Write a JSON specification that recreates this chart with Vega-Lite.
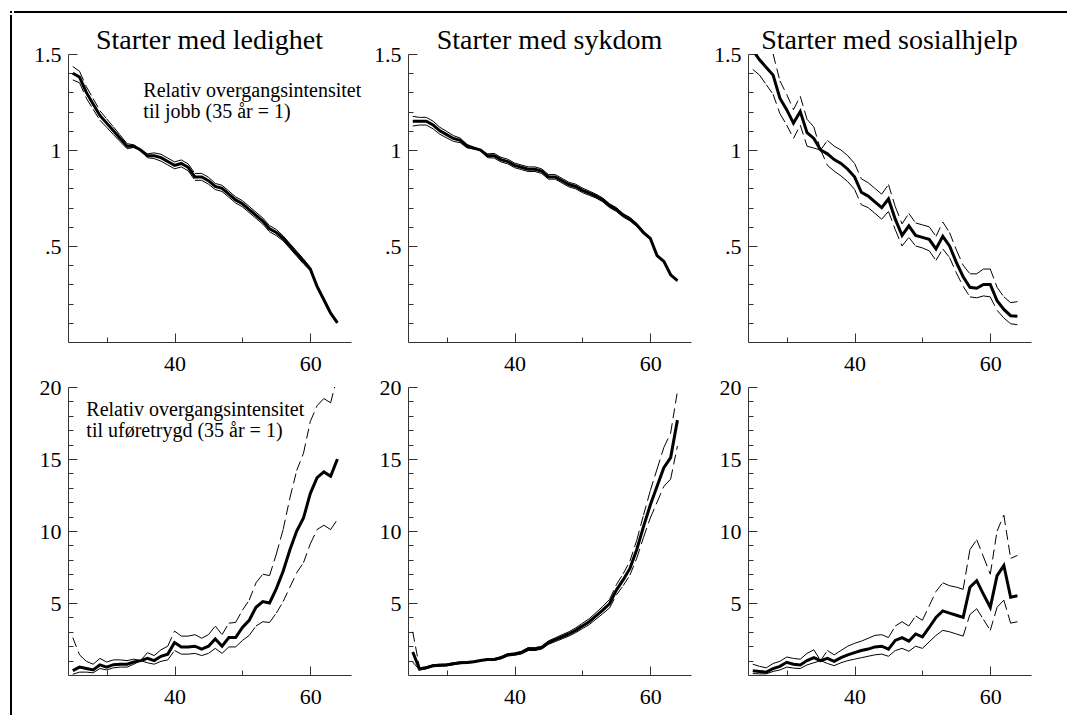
{
"$schema": "https://vega.github.io/schema/vega-lite/v6.json",
"padding": {"left": 8, "top": 9, "right": 0, "bottom": 0},
"autosize": {"type": "pad"},
"background": "white",
"config": {
  "font": "Liberation Serif",
  "view": {"stroke": null},
  "title": {"font": "Liberation Serif", "fontSize": 28, "fontWeight": "normal", "color": "black", "anchor": "middle", "frame": "group", "offset": -12},
  "axis": {"grid": false, "domainColor": "#333", "tickColor": "#333", "labelColor": "black", "labelFont": "Liberation Serif", "labelFontSize": 22, "labelOverlap": false, "title": null, "domainWidth": 1, "tickWidth": 1, "tickCount": 100}
},
"datasets": {
"notes": [
 {"p": "A", "a": 35.4, "v": 1.276, "t": "Relativ overgangsintensitet\ntil jobb (35 år = 1)"},
 {"p": "D", "a": 27.0, "v": 18.0, "t": "Relativ overgangsintensitet\ntil uføretrygd (35 år = 1)"}
],
"d": [
{"p":"A","a":25,"m":1.40,"lo":1.365,"hi":1.435},{"p":"A","a":26,"m":1.38,"lo":1.35,"hi":1.41},{"p":"A","a":27,"m":1.30,"lo":1.27,"hi":1.33},{"p":"A","a":28,"m":1.24,"lo":1.212,"hi":1.268},{"p":"A","a":29,"m":1.18,"lo":1.155,"hi":1.205},{"p":"A","a":30,"m":1.14,"lo":1.118,"hi":1.162},{"p":"A","a":31,"m":1.10,"lo":1.08,"hi":1.12},{"p":"A","a":32,"m":1.06,"lo":1.043,"hi":1.077},{"p":"A","a":33,"m":1.02,"lo":1.007,"hi":1.033},{"p":"A","a":34,"m":1.02,"lo":1.013,"hi":1.027},{"p":"A","a":35,"m":1.00,"lo":1.00,"hi":1.00},{"p":"A","a":36,"m":0.97,"lo":0.96,"hi":0.98},{"p":"A","a":37,"m":0.97,"lo":0.955,"hi":0.985},{"p":"A","a":38,"m":0.96,"lo":0.942,"hi":0.978},{"p":"A","a":39,"m":0.94,"lo":0.922,"hi":0.958},{"p":"A","a":40,"m":0.92,"lo":0.902,"hi":0.938},{"p":"A","a":41,"m":0.93,"lo":0.912,"hi":0.948},{"p":"A","a":42,"m":0.91,"lo":0.892,"hi":0.928},{"p":"A","a":43,"m":0.86,"lo":0.842,"hi":0.878},{"p":"A","a":44,"m":0.86,"lo":0.842,"hi":0.878},{"p":"A","a":45,"m":0.84,"lo":0.822,"hi":0.858},{"p":"A","a":46,"m":0.81,"lo":0.794,"hi":0.826},{"p":"A","a":47,"m":0.80,"lo":0.784,"hi":0.816},{"p":"A","a":48,"m":0.77,"lo":0.754,"hi":0.786},{"p":"A","a":49,"m":0.74,"lo":0.724,"hi":0.756},{"p":"A","a":50,"m":0.72,"lo":0.704,"hi":0.736},{"p":"A","a":51,"m":0.69,"lo":0.674,"hi":0.706},{"p":"A","a":52,"m":0.66,"lo":0.644,"hi":0.676},{"p":"A","a":53,"m":0.63,"lo":0.614,"hi":0.646},{"p":"A","a":54,"m":0.59,"lo":0.574,"hi":0.606},{"p":"A","a":55,"m":0.57,"lo":0.554,"hi":0.586},{"p":"A","a":56,"m":0.54,"lo":0.527,"hi":0.553},{"p":"A","a":57,"m":0.50,"lo":0.487,"hi":0.513},{"p":"A","a":58,"m":0.46,"lo":0.447,"hi":0.473},{"p":"A","a":59,"m":0.42,"lo":0.407,"hi":0.433},{"p":"A","a":60,"m":0.38,"lo":0.372,"hi":0.388},{"p":"A","a":61,"m":0.29,"lo":0.285,"hi":0.295},{"p":"A","a":62,"m":0.22,"lo":0.215,"hi":0.225},{"p":"A","a":63,"m":0.15,"lo":0.145,"hi":0.155},{"p":"A","a":64,"m":0.10,"lo":0.095,"hi":0.105},
{"p":"B","a":25,"m":1.15,"lo":1.125,"hi":1.175},{"p":"B","a":26,"m":1.15,"lo":1.13,"hi":1.17},{"p":"B","a":27,"m":1.15,"lo":1.13,"hi":1.17},{"p":"B","a":28,"m":1.13,"lo":1.11,"hi":1.15},{"p":"B","a":29,"m":1.10,"lo":1.082,"hi":1.118},{"p":"B","a":30,"m":1.08,"lo":1.063,"hi":1.097},{"p":"B","a":31,"m":1.06,"lo":1.045,"hi":1.075},{"p":"B","a":32,"m":1.05,"lo":1.038,"hi":1.062},{"p":"B","a":33,"m":1.02,"lo":1.011,"hi":1.029},{"p":"B","a":34,"m":1.01,"lo":1.005,"hi":1.015},{"p":"B","a":35,"m":1.00,"lo":1.00,"hi":1.00},{"p":"B","a":36,"m":0.97,"lo":0.96,"hi":0.98},{"p":"B","a":37,"m":0.97,"lo":0.958,"hi":0.982},{"p":"B","a":38,"m":0.95,"lo":0.938,"hi":0.962},{"p":"B","a":39,"m":0.94,"lo":0.928,"hi":0.952},{"p":"B","a":40,"m":0.92,"lo":0.908,"hi":0.932},{"p":"B","a":41,"m":0.91,"lo":0.898,"hi":0.922},{"p":"B","a":42,"m":0.90,"lo":0.888,"hi":0.912},{"p":"B","a":43,"m":0.90,"lo":0.888,"hi":0.912},{"p":"B","a":44,"m":0.89,"lo":0.878,"hi":0.902},{"p":"B","a":45,"m":0.86,"lo":0.848,"hi":0.872},{"p":"B","a":46,"m":0.86,"lo":0.848,"hi":0.872},{"p":"B","a":47,"m":0.84,"lo":0.828,"hi":0.852},{"p":"B","a":48,"m":0.82,"lo":0.808,"hi":0.832},{"p":"B","a":49,"m":0.81,"lo":0.798,"hi":0.822},{"p":"B","a":50,"m":0.79,"lo":0.778,"hi":0.802},{"p":"B","a":51,"m":0.775,"lo":0.764,"hi":0.786},{"p":"B","a":52,"m":0.76,"lo":0.75,"hi":0.77},{"p":"B","a":53,"m":0.74,"lo":0.73,"hi":0.75},{"p":"B","a":54,"m":0.71,"lo":0.70,"hi":0.72},{"p":"B","a":55,"m":0.69,"lo":0.68,"hi":0.70},{"p":"B","a":56,"m":0.66,"lo":0.651,"hi":0.669},{"p":"B","a":57,"m":0.64,"lo":0.631,"hi":0.649},{"p":"B","a":58,"m":0.61,"lo":0.602,"hi":0.618},{"p":"B","a":59,"m":0.57,"lo":0.564,"hi":0.576},{"p":"B","a":60,"m":0.54,"lo":0.535,"hi":0.545},{"p":"B","a":61,"m":0.45,"lo":0.446,"hi":0.454},{"p":"B","a":62,"m":0.42,"lo":0.416,"hi":0.424},{"p":"B","a":63,"m":0.35,"lo":0.346,"hi":0.354},{"p":"B","a":64,"m":0.32,"lo":0.317,"hi":0.323},
{"p":"C","a":25,"m":1.52,"lo":1.42,"hi":1.63},{"p":"C","a":26,"m":1.47,"lo":1.39,"hi":1.56},{"p":"C","a":27,"m":1.43,"lo":1.34,"hi":1.53},{"p":"C","a":28,"m":1.39,"lo":1.29,"hi":1.50},{"p":"C","a":29,"m":1.27,"lo":1.19,"hi":1.36},{"p":"C","a":30,"m":1.21,"lo":1.13,"hi":1.29},{"p":"C","a":31,"m":1.14,"lo":1.06,"hi":1.21},{"p":"C","a":32,"m":1.20,"lo":1.13,"hi":1.28},{"p":"C","a":33,"m":1.09,"lo":1.02,"hi":1.16},{"p":"C","a":34,"m":1.06,"lo":1.01,"hi":1.12},{"p":"C","a":35,"m":1.00,"lo":1.00,"hi":1.00},{"p":"C","a":36,"m":0.98,"lo":0.92,"hi":1.05},{"p":"C","a":37,"m":0.95,"lo":0.89,"hi":1.02},{"p":"C","a":38,"m":0.93,"lo":0.865,"hi":1.00},{"p":"C","a":39,"m":0.90,"lo":0.835,"hi":0.97},{"p":"C","a":40,"m":0.86,"lo":0.795,"hi":0.93},{"p":"C","a":41,"m":0.78,"lo":0.715,"hi":0.85},{"p":"C","a":42,"m":0.76,"lo":0.70,"hi":0.83},{"p":"C","a":43,"m":0.73,"lo":0.67,"hi":0.80},{"p":"C","a":44,"m":0.70,"lo":0.64,"hi":0.77},{"p":"C","a":45,"m":0.745,"lo":0.68,"hi":0.82},{"p":"C","a":46,"m":0.64,"lo":0.585,"hi":0.705},{"p":"C","a":47,"m":0.555,"lo":0.50,"hi":0.615},{"p":"C","a":48,"m":0.605,"lo":0.545,"hi":0.67},{"p":"C","a":49,"m":0.555,"lo":0.50,"hi":0.62},{"p":"C","a":50,"m":0.545,"lo":0.49,"hi":0.61},{"p":"C","a":51,"m":0.535,"lo":0.475,"hi":0.60},{"p":"C","a":52,"m":0.485,"lo":0.425,"hi":0.55},{"p":"C","a":53,"m":0.55,"lo":0.485,"hi":0.625},{"p":"C","a":54,"m":0.50,"lo":0.44,"hi":0.57},{"p":"C","a":55,"m":0.415,"lo":0.36,"hi":0.48},{"p":"C","a":56,"m":0.34,"lo":0.29,"hi":0.40},{"p":"C","a":57,"m":0.285,"lo":0.235,"hi":0.355},{"p":"C","a":58,"m":0.28,"lo":0.23,"hi":0.355},{"p":"C","a":59,"m":0.30,"lo":0.24,"hi":0.38},{"p":"C","a":60,"m":0.30,"lo":0.235,"hi":0.38},{"p":"C","a":61,"m":0.215,"lo":0.165,"hi":0.285},{"p":"C","a":62,"m":0.17,"lo":0.125,"hi":0.235},{"p":"C","a":63,"m":0.137,"lo":0.095,"hi":0.205},{"p":"C","a":64,"m":0.134,"lo":0.09,"hi":0.21},
{"p":"D","a":25,"m":0.30,"lo":0.05,"hi":2.6},{"p":"D","a":26,"m":0.55,"lo":0.2,"hi":1.4},{"p":"D","a":27,"m":0.45,"lo":0.2,"hi":0.95},{"p":"D","a":28,"m":0.35,"lo":0.15,"hi":0.75},{"p":"D","a":29,"m":0.70,"lo":0.45,"hi":1.15},{"p":"D","a":30,"m":0.55,"lo":0.35,"hi":0.9},{"p":"D","a":31,"m":0.72,"lo":0.5,"hi":1.05},{"p":"D","a":32,"m":0.75,"lo":0.55,"hi":1.05},{"p":"D","a":33,"m":0.75,"lo":0.55,"hi":1.0},{"p":"D","a":34,"m":0.9,"lo":0.75,"hi":1.1},{"p":"D","a":35,"m":1.0,"lo":1.0,"hi":1.0},{"p":"D","a":36,"m":1.15,"lo":0.85,"hi":1.55},{"p":"D","a":37,"m":1.0,"lo":0.75,"hi":1.35},{"p":"D","a":38,"m":1.3,"lo":0.95,"hi":1.75},{"p":"D","a":39,"m":1.45,"lo":1.05,"hi":2.0},{"p":"D","a":40,"m":2.25,"lo":1.7,"hi":3.05},{"p":"D","a":41,"m":1.95,"lo":1.45,"hi":2.7},{"p":"D","a":42,"m":1.95,"lo":1.45,"hi":2.7},{"p":"D","a":43,"m":2.0,"lo":1.5,"hi":2.8},{"p":"D","a":44,"m":1.8,"lo":1.35,"hi":2.55},{"p":"D","a":45,"m":2.0,"lo":1.5,"hi":2.8},{"p":"D","a":46,"m":2.5,"lo":1.85,"hi":3.4},{"p":"D","a":47,"m":2.0,"lo":1.5,"hi":2.8},{"p":"D","a":48,"m":2.6,"lo":1.95,"hi":3.6},{"p":"D","a":49,"m":2.6,"lo":1.95,"hi":3.65},{"p":"D","a":50,"m":3.3,"lo":2.4,"hi":4.5},{"p":"D","a":51,"m":3.8,"lo":2.75,"hi":5.2},{"p":"D","a":52,"m":4.7,"lo":3.4,"hi":6.4},{"p":"D","a":53,"m":5.1,"lo":3.7,"hi":7.0},{"p":"D","a":54,"m":5.0,"lo":3.65,"hi":6.9},{"p":"D","a":55,"m":6.0,"lo":4.3,"hi":8.4},{"p":"D","a":56,"m":7.2,"lo":5.1,"hi":10.1},{"p":"D","a":57,"m":8.7,"lo":6.1,"hi":12.3},{"p":"D","a":58,"m":10.0,"lo":7.1,"hi":14.2},{"p":"D","a":59,"m":10.9,"lo":7.8,"hi":15.4},{"p":"D","a":60,"m":12.6,"lo":9.1,"hi":17.6},{"p":"D","a":61,"m":13.7,"lo":10.1,"hi":18.7},{"p":"D","a":62,"m":14.1,"lo":10.4,"hi":19.2},{"p":"D","a":63,"m":13.8,"lo":10.1,"hi":18.9},{"p":"D","a":64,"m":15.0,"lo":10.8,"hi":20.8},
{"p":"E","a":25,"m":1.6,"lo":0.9,"hi":3.0},{"p":"E","a":26,"m":0.42,"lo":0.35,"hi":0.5},{"p":"E","a":27,"m":0.5,"lo":0.44,"hi":0.57},{"p":"E","a":28,"m":0.65,"lo":0.58,"hi":0.72},{"p":"E","a":29,"m":0.68,"lo":0.61,"hi":0.75},{"p":"E","a":30,"m":0.70,"lo":0.64,"hi":0.77},{"p":"E","a":31,"m":0.78,"lo":0.72,"hi":0.85},{"p":"E","a":32,"m":0.85,"lo":0.79,"hi":0.91},{"p":"E","a":33,"m":0.87,"lo":0.82,"hi":0.92},{"p":"E","a":34,"m":0.92,"lo":0.88,"hi":0.96},{"p":"E","a":35,"m":1.0,"lo":1.0,"hi":1.0},{"p":"E","a":36,"m":1.08,"lo":1.02,"hi":1.14},{"p":"E","a":37,"m":1.08,"lo":1.02,"hi":1.14},{"p":"E","a":38,"m":1.2,"lo":1.13,"hi":1.27},{"p":"E","a":39,"m":1.4,"lo":1.32,"hi":1.48},{"p":"E","a":40,"m":1.45,"lo":1.37,"hi":1.54},{"p":"E","a":41,"m":1.55,"lo":1.46,"hi":1.64},{"p":"E","a":42,"m":1.8,"lo":1.7,"hi":1.9},{"p":"E","a":43,"m":1.8,"lo":1.7,"hi":1.9},{"p":"E","a":44,"m":1.9,"lo":1.8,"hi":2.0},{"p":"E","a":45,"m":2.25,"lo":2.13,"hi":2.37},{"p":"E","a":46,"m":2.45,"lo":2.32,"hi":2.58},{"p":"E","a":47,"m":2.65,"lo":2.51,"hi":2.8},{"p":"E","a":48,"m":2.85,"lo":2.7,"hi":3.0},{"p":"E","a":49,"m":3.1,"lo":2.94,"hi":3.27},{"p":"E","a":50,"m":3.4,"lo":3.22,"hi":3.59},{"p":"E","a":51,"m":3.7,"lo":3.5,"hi":3.91},{"p":"E","a":52,"m":4.1,"lo":3.88,"hi":4.33},{"p":"E","a":53,"m":4.5,"lo":4.26,"hi":4.76},{"p":"E","a":54,"m":4.95,"lo":4.66,"hi":5.25},{"p":"E","a":55,"m":5.9,"lo":5.55,"hi":6.27},{"p":"E","a":56,"m":6.6,"lo":6.2,"hi":7.03},{"p":"E","a":57,"m":7.4,"lo":6.93,"hi":7.9},{"p":"E","a":58,"m":8.7,"lo":8.1,"hi":9.35},{"p":"E","a":59,"m":10.3,"lo":9.55,"hi":11.1},{"p":"E","a":60,"m":11.8,"lo":10.9,"hi":12.8},{"p":"E","a":61,"m":13.1,"lo":12.0,"hi":14.3},{"p":"E","a":62,"m":14.4,"lo":13.1,"hi":15.8},{"p":"E","a":63,"m":15.1,"lo":13.6,"hi":16.8},{"p":"E","a":64,"m":17.7,"lo":15.9,"hi":19.7},
{"p":"F","a":25,"m":0.3,"lo":0.1,"hi":0.75},{"p":"F","a":26,"m":0.25,"lo":0.08,"hi":0.6},{"p":"F","a":27,"m":0.2,"lo":0.08,"hi":0.5},{"p":"F","a":28,"m":0.45,"lo":0.25,"hi":0.8},{"p":"F","a":29,"m":0.6,"lo":0.35,"hi":0.95},{"p":"F","a":30,"m":0.88,"lo":0.55,"hi":1.25},{"p":"F","a":31,"m":0.75,"lo":0.48,"hi":1.15},{"p":"F","a":32,"m":0.7,"lo":0.45,"hi":1.1},{"p":"F","a":33,"m":1.0,"lo":0.7,"hi":1.5},{"p":"F","a":34,"m":1.2,"lo":0.85,"hi":1.75},{"p":"F","a":35,"m":1.0,"lo":1.0,"hi":1.0},{"p":"F","a":36,"m":1.15,"lo":0.8,"hi":1.7},{"p":"F","a":37,"m":0.95,"lo":0.65,"hi":1.4},{"p":"F","a":38,"m":1.2,"lo":0.85,"hi":1.7},{"p":"F","a":39,"m":1.4,"lo":1.0,"hi":2.0},{"p":"F","a":40,"m":1.55,"lo":1.1,"hi":2.2},{"p":"F","a":41,"m":1.7,"lo":1.2,"hi":2.35},{"p":"F","a":42,"m":1.8,"lo":1.3,"hi":2.55},{"p":"F","a":43,"m":1.95,"lo":1.4,"hi":2.75},{"p":"F","a":44,"m":2.0,"lo":1.45,"hi":2.8},{"p":"F","a":45,"m":1.8,"lo":1.3,"hi":2.6},{"p":"F","a":46,"m":2.4,"lo":1.7,"hi":3.4},{"p":"F","a":47,"m":2.6,"lo":1.85,"hi":3.7},{"p":"F","a":48,"m":2.35,"lo":1.65,"hi":3.4},{"p":"F","a":49,"m":2.85,"lo":2.0,"hi":4.1},{"p":"F","a":50,"m":2.65,"lo":1.85,"hi":3.8},{"p":"F","a":51,"m":3.3,"lo":2.3,"hi":4.8},{"p":"F","a":52,"m":4.0,"lo":2.75,"hi":5.8},{"p":"F","a":53,"m":4.45,"lo":3.1,"hi":6.4},{"p":"F","a":54,"m":4.3,"lo":3.0,"hi":6.2},{"p":"F","a":55,"m":4.15,"lo":2.85,"hi":6.1},{"p":"F","a":56,"m":4.0,"lo":2.7,"hi":5.95},{"p":"F","a":57,"m":6.1,"lo":4.2,"hi":8.7},{"p":"F","a":58,"m":6.55,"lo":4.6,"hi":9.4},{"p":"F","a":59,"m":5.6,"lo":3.85,"hi":8.2},{"p":"F","a":60,"m":4.7,"lo":3.1,"hi":7.0},{"p":"F","a":61,"m":6.9,"lo":4.7,"hi":10.0},{"p":"F","a":62,"m":7.6,"lo":5.2,"hi":11.1},{"p":"F","a":63,"m":5.4,"lo":3.6,"hi":8.1},{"p":"F","a":64,"m":5.5,"lo":3.7,"hi":8.3}
]
},
"columns": 2, "align": "none", "bounds": "full", "spacing": {"row": 0, "column": 0},
"concat": [
 {"width": 2, "height": 2, "view": {"fill": "black", "stroke": null}, "data": {"values": [{}]}, "mark": {"type": "point", "opacity": 0}, "encoding": {}},
 {"width": 1057, "height": 2, "view": {"fill": "black", "stroke": null}, "data": {"values": [{}]}, "mark": {"type": "point", "opacity": 0}, "encoding": {}},
 {"width": 2, "height": 704, "view": {"fill": "black", "stroke": null}, "data": {"values": [{}]}, "mark": {"type": "point", "opacity": 0}, "encoding": {}},
 {"title": {"text": " ", "fontSize": 5, "offset": 7},
  "columns": 3, "spacing": {"row": 45, "column": 57}, "bounds": "flush",
  "concat": [
   {"width": 283, "height": 288, "title": "Starter med ledighet", "data": {"name": "d"},
    "encoding": {"x": {"field": "a", "type": "quantitative", "scale": {"domain": [24.3, 66], "nice": false, "zero": false}, "axis": {"values": [30, 40, 50, 60], "tickCount": 100, "labelExpr": "datum.value === 40 ? '40' : datum.value === 60 ? '60' : ''", "tickSize": {"condition": {"test": "datum.value % 20 === 0", "value": -9}, "value": -5}, "labelFontSize": {"condition": {"test": "datum.value % 20 === 0", "value": 22}, "value": 1}, "labelPadding": 20, "labelOverlap": false}}},
    "layer": [
     {"transform": [{"filter": "datum.p === 'A'"}, {"window": [{"op": "lead", "field": "a", "as": "a2"}, {"op": "lead", "field": "hi", "as": "hi2"}], "sort": [{"field": "a"}]}, {"filter": "isValid(datum.a2)"}],
      "mark": {"type": "rule", "strokeWidth": 1, "strokeDash": [10, 5], "color": "black", "clip": true},
      "encoding": {"x2": {"field": "a2"}, "y": {"field": "hi", "type": "quantitative", "scale": {"domain": [0, 1.5], "nice": false, "zero": false}, "axis": {"values": [0.1,0.2,0.3,0.4,0.5,0.6,0.7,0.8,0.9,1,1.1,1.2,1.3,1.4,1.5], "tickCount": 100, "labelExpr": "datum.value === 0.5 ? '.5' : datum.value === 1 ? '1' : datum.value === 1.5 ? '1.5' : ''", "tickSize": {"condition": {"test": "datum.value === 0.5 || datum.value === 1 || datum.value === 1.5", "value": -9}, "value": -5}, "labelFontSize": {"condition": {"test": "datum.value === 0.5 || datum.value === 1 || datum.value === 1.5", "value": 22}, "value": 1}, "labelPadding": 16, "labelOverlap": false, "minExtent": 54}}, "y2": {"field": "hi2"}}},
     {"transform": [{"filter": "datum.p === 'A'"}, {"window": [{"op": "lead", "field": "a", "as": "a2"}, {"op": "lead", "field": "lo", "as": "lo2"}], "sort": [{"field": "a"}]}, {"filter": "isValid(datum.a2)"}],
      "mark": {"type": "rule", "strokeWidth": 1, "strokeDash": [10, 5], "color": "black", "clip": true},
      "encoding": {"x2": {"field": "a2"}, "y": {"field": "lo", "type": "quantitative"}, "y2": {"field": "lo2"}}},
     {"transform": [{"filter": "datum.p === 'A'"}],
      "mark": {"type": "line", "strokeWidth": 3, "color": "black", "clip": true},
      "encoding": {"y": {"field": "m", "type": "quantitative"}}},
     {"data": {"name": "notes"}, "transform": [{"filter": "datum.p === 'A'"}],
      "mark": {"type": "text", "align": "left", "baseline": "alphabetic", "fontSize": 20, "font": "Liberation Serif", "lineBreak": "\n", "lineHeight": 21, "color": "black"},
      "encoding": {"y": {"field": "v", "type": "quantitative"}, "text": {"field": "t"}}}
    ]},
   {"width": 283, "height": 288, "title": "Starter med sykdom", "data": {"name": "d"},
    "encoding": {"x": {"field": "a", "type": "quantitative", "scale": {"domain": [24.3, 66], "nice": false, "zero": false}, "axis": {"values": [30, 40, 50, 60], "tickCount": 100, "labelExpr": "datum.value === 40 ? '40' : datum.value === 60 ? '60' : ''", "tickSize": {"condition": {"test": "datum.value % 20 === 0", "value": -9}, "value": -5}, "labelFontSize": {"condition": {"test": "datum.value % 20 === 0", "value": 22}, "value": 1}, "labelPadding": 20, "labelOverlap": false}}},
    "layer": [
     {"transform": [{"filter": "datum.p === 'B'"}, {"window": [{"op": "lead", "field": "a", "as": "a2"}, {"op": "lead", "field": "hi", "as": "hi2"}], "sort": [{"field": "a"}]}, {"filter": "isValid(datum.a2)"}],
      "mark": {"type": "rule", "strokeWidth": 1, "strokeDash": [10, 5], "color": "black", "clip": true},
      "encoding": {"x2": {"field": "a2"}, "y": {"field": "hi", "type": "quantitative", "scale": {"domain": [0, 1.5], "nice": false, "zero": false}, "axis": {"values": [0.1,0.2,0.3,0.4,0.5,0.6,0.7,0.8,0.9,1,1.1,1.2,1.3,1.4,1.5], "tickCount": 100, "labelExpr": "datum.value === 0.5 ? '.5' : datum.value === 1 ? '1' : datum.value === 1.5 ? '1.5' : ''", "tickSize": {"condition": {"test": "datum.value === 0.5 || datum.value === 1 || datum.value === 1.5", "value": -9}, "value": -5}, "labelFontSize": {"condition": {"test": "datum.value === 0.5 || datum.value === 1 || datum.value === 1.5", "value": 22}, "value": 1}, "labelPadding": 16, "labelOverlap": false}}, "y2": {"field": "hi2"}}},
     {"transform": [{"filter": "datum.p === 'B'"}, {"window": [{"op": "lead", "field": "a", "as": "a2"}, {"op": "lead", "field": "lo", "as": "lo2"}], "sort": [{"field": "a"}]}, {"filter": "isValid(datum.a2)"}],
      "mark": {"type": "rule", "strokeWidth": 1, "strokeDash": [10, 5], "color": "black", "clip": true},
      "encoding": {"x2": {"field": "a2"}, "y": {"field": "lo", "type": "quantitative"}, "y2": {"field": "lo2"}}},
     {"transform": [{"filter": "datum.p === 'B'"}],
      "mark": {"type": "line", "strokeWidth": 3, "color": "black", "clip": true},
      "encoding": {"y": {"field": "m", "type": "quantitative"}}}
    ]},
   {"width": 283, "height": 288, "title": "Starter med sosialhjelp", "data": {"name": "d"},
    "encoding": {"x": {"field": "a", "type": "quantitative", "scale": {"domain": [24.3, 66], "nice": false, "zero": false}, "axis": {"values": [30, 40, 50, 60], "tickCount": 100, "labelExpr": "datum.value === 40 ? '40' : datum.value === 60 ? '60' : ''", "tickSize": {"condition": {"test": "datum.value % 20 === 0", "value": -9}, "value": -5}, "labelFontSize": {"condition": {"test": "datum.value % 20 === 0", "value": 22}, "value": 1}, "labelPadding": 20, "labelOverlap": false}}},
    "layer": [
     {"transform": [{"filter": "datum.p === 'C'"}, {"window": [{"op": "lead", "field": "a", "as": "a2"}, {"op": "lead", "field": "hi", "as": "hi2"}], "sort": [{"field": "a"}]}, {"filter": "isValid(datum.a2)"}],
      "mark": {"type": "rule", "strokeWidth": 1, "strokeDash": [10, 5], "color": "black", "clip": true},
      "encoding": {"x2": {"field": "a2"}, "y": {"field": "hi", "type": "quantitative", "scale": {"domain": [0, 1.5], "nice": false, "zero": false}, "axis": {"values": [0.1,0.2,0.3,0.4,0.5,0.6,0.7,0.8,0.9,1,1.1,1.2,1.3,1.4,1.5], "tickCount": 100, "labelExpr": "datum.value === 0.5 ? '.5' : datum.value === 1 ? '1' : datum.value === 1.5 ? '1.5' : ''", "tickSize": {"condition": {"test": "datum.value === 0.5 || datum.value === 1 || datum.value === 1.5", "value": -9}, "value": -5}, "labelFontSize": {"condition": {"test": "datum.value === 0.5 || datum.value === 1 || datum.value === 1.5", "value": 22}, "value": 1}, "labelPadding": 16, "labelOverlap": false}}, "y2": {"field": "hi2"}}},
     {"transform": [{"filter": "datum.p === 'C'"}, {"window": [{"op": "lead", "field": "a", "as": "a2"}, {"op": "lead", "field": "lo", "as": "lo2"}], "sort": [{"field": "a"}]}, {"filter": "isValid(datum.a2)"}],
      "mark": {"type": "rule", "strokeWidth": 1, "strokeDash": [10, 5], "color": "black", "clip": true},
      "encoding": {"x2": {"field": "a2"}, "y": {"field": "lo", "type": "quantitative"}, "y2": {"field": "lo2"}}},
     {"transform": [{"filter": "datum.p === 'C'"}],
      "mark": {"type": "line", "strokeWidth": 3, "color": "black", "clip": true},
      "encoding": {"y": {"field": "m", "type": "quantitative"}}}
    ]},
   {"width": 283, "height": 288, "data": {"name": "d"},
    "encoding": {"x": {"field": "a", "type": "quantitative", "scale": {"domain": [24.3, 66], "nice": false, "zero": false}, "axis": {"values": [30, 40, 50, 60], "tickCount": 100, "labelExpr": "datum.value === 40 ? '40' : datum.value === 60 ? '60' : ''", "tickSize": {"condition": {"test": "datum.value % 20 === 0", "value": -9}, "value": -5}, "labelFontSize": {"condition": {"test": "datum.value % 20 === 0", "value": 22}, "value": 1}, "labelPadding": 20, "labelOverlap": false}}},
    "layer": [
     {"transform": [{"filter": "datum.p === 'D'"}, {"window": [{"op": "lead", "field": "a", "as": "a2"}, {"op": "lead", "field": "hi", "as": "hi2"}], "sort": [{"field": "a"}]}, {"filter": "isValid(datum.a2)"}],
      "mark": {"type": "rule", "strokeWidth": 1, "strokeDash": [10, 5], "color": "black", "clip": true},
      "encoding": {"x2": {"field": "a2"}, "y": {"field": "hi", "type": "quantitative", "scale": {"domain": [0, 20], "nice": false, "zero": false}, "axis": {"values": [1,2,3,4,5,6,7,8,9,10,11,12,13,14,15,16,17,18,19,20], "tickCount": 100, "labelExpr": "datum.value % 5 === 0 ? '' + datum.value : ''", "tickSize": {"condition": {"test": "datum.value % 5 === 0", "value": -9}, "value": -5}, "labelFontSize": {"condition": {"test": "datum.value % 5 === 0", "value": 22}, "value": 1}, "labelPadding": 16, "labelOverlap": false, "minExtent": 54}}, "y2": {"field": "hi2"}}},
     {"transform": [{"filter": "datum.p === 'D'"}, {"window": [{"op": "lead", "field": "a", "as": "a2"}, {"op": "lead", "field": "lo", "as": "lo2"}], "sort": [{"field": "a"}]}, {"filter": "isValid(datum.a2)"}],
      "mark": {"type": "rule", "strokeWidth": 1, "strokeDash": [10, 5], "color": "black", "clip": true},
      "encoding": {"x2": {"field": "a2"}, "y": {"field": "lo", "type": "quantitative"}, "y2": {"field": "lo2"}}},
     {"transform": [{"filter": "datum.p === 'D'"}],
      "mark": {"type": "line", "strokeWidth": 3, "color": "black", "clip": true},
      "encoding": {"y": {"field": "m", "type": "quantitative"}}},
     {"data": {"name": "notes"}, "transform": [{"filter": "datum.p === 'D'"}],
      "mark": {"type": "text", "align": "left", "baseline": "alphabetic", "fontSize": 20, "font": "Liberation Serif", "lineBreak": "\n", "lineHeight": 21, "color": "black"},
      "encoding": {"y": {"field": "v", "type": "quantitative"}, "text": {"field": "t"}}}
    ]},
   {"width": 283, "height": 288, "data": {"name": "d"},
    "encoding": {"x": {"field": "a", "type": "quantitative", "scale": {"domain": [24.3, 66], "nice": false, "zero": false}, "axis": {"values": [30, 40, 50, 60], "tickCount": 100, "labelExpr": "datum.value === 40 ? '40' : datum.value === 60 ? '60' : ''", "tickSize": {"condition": {"test": "datum.value % 20 === 0", "value": -9}, "value": -5}, "labelFontSize": {"condition": {"test": "datum.value % 20 === 0", "value": 22}, "value": 1}, "labelPadding": 20, "labelOverlap": false}}},
    "layer": [
     {"transform": [{"filter": "datum.p === 'E'"}, {"window": [{"op": "lead", "field": "a", "as": "a2"}, {"op": "lead", "field": "hi", "as": "hi2"}], "sort": [{"field": "a"}]}, {"filter": "isValid(datum.a2)"}],
      "mark": {"type": "rule", "strokeWidth": 1, "strokeDash": [10, 5], "color": "black", "clip": true},
      "encoding": {"x2": {"field": "a2"}, "y": {"field": "hi", "type": "quantitative", "scale": {"domain": [0, 20], "nice": false, "zero": false}, "axis": {"values": [1,2,3,4,5,6,7,8,9,10,11,12,13,14,15,16,17,18,19,20], "tickCount": 100, "labelExpr": "datum.value % 5 === 0 ? '' + datum.value : ''", "tickSize": {"condition": {"test": "datum.value % 5 === 0", "value": -9}, "value": -5}, "labelFontSize": {"condition": {"test": "datum.value % 5 === 0", "value": 22}, "value": 1}, "labelPadding": 16, "labelOverlap": false}}, "y2": {"field": "hi2"}}},
     {"transform": [{"filter": "datum.p === 'E'"}, {"window": [{"op": "lead", "field": "a", "as": "a2"}, {"op": "lead", "field": "lo", "as": "lo2"}], "sort": [{"field": "a"}]}, {"filter": "isValid(datum.a2)"}],
      "mark": {"type": "rule", "strokeWidth": 1, "strokeDash": [10, 5], "color": "black", "clip": true},
      "encoding": {"x2": {"field": "a2"}, "y": {"field": "lo", "type": "quantitative"}, "y2": {"field": "lo2"}}},
     {"transform": [{"filter": "datum.p === 'E'"}],
      "mark": {"type": "line", "strokeWidth": 3, "color": "black", "clip": true},
      "encoding": {"y": {"field": "m", "type": "quantitative"}}}
    ]},
   {"width": 283, "height": 288, "data": {"name": "d"},
    "encoding": {"x": {"field": "a", "type": "quantitative", "scale": {"domain": [24.3, 66], "nice": false, "zero": false}, "axis": {"values": [30, 40, 50, 60], "tickCount": 100, "labelExpr": "datum.value === 40 ? '40' : datum.value === 60 ? '60' : ''", "tickSize": {"condition": {"test": "datum.value % 20 === 0", "value": -9}, "value": -5}, "labelFontSize": {"condition": {"test": "datum.value % 20 === 0", "value": 22}, "value": 1}, "labelPadding": 20, "labelOverlap": false}}},
    "layer": [
     {"transform": [{"filter": "datum.p === 'F'"}, {"window": [{"op": "lead", "field": "a", "as": "a2"}, {"op": "lead", "field": "hi", "as": "hi2"}], "sort": [{"field": "a"}]}, {"filter": "isValid(datum.a2)"}],
      "mark": {"type": "rule", "strokeWidth": 1, "strokeDash": [10, 5], "color": "black", "clip": true},
      "encoding": {"x2": {"field": "a2"}, "y": {"field": "hi", "type": "quantitative", "scale": {"domain": [0, 20], "nice": false, "zero": false}, "axis": {"values": [1,2,3,4,5,6,7,8,9,10,11,12,13,14,15,16,17,18,19,20], "tickCount": 100, "labelExpr": "datum.value % 5 === 0 ? '' + datum.value : ''", "tickSize": {"condition": {"test": "datum.value % 5 === 0", "value": -9}, "value": -5}, "labelFontSize": {"condition": {"test": "datum.value % 5 === 0", "value": 22}, "value": 1}, "labelPadding": 16, "labelOverlap": false}}, "y2": {"field": "hi2"}}},
     {"transform": [{"filter": "datum.p === 'F'"}, {"window": [{"op": "lead", "field": "a", "as": "a2"}, {"op": "lead", "field": "lo", "as": "lo2"}], "sort": [{"field": "a"}]}, {"filter": "isValid(datum.a2)"}],
      "mark": {"type": "rule", "strokeWidth": 1, "strokeDash": [10, 5], "color": "black", "clip": true},
      "encoding": {"x2": {"field": "a2"}, "y": {"field": "lo", "type": "quantitative"}, "y2": {"field": "lo2"}}},
     {"transform": [{"filter": "datum.p === 'F'"}],
      "mark": {"type": "line", "strokeWidth": 3, "color": "black", "clip": true},
      "encoding": {"y": {"field": "m", "type": "quantitative"}}}
    ]}
  ]}
]
}
